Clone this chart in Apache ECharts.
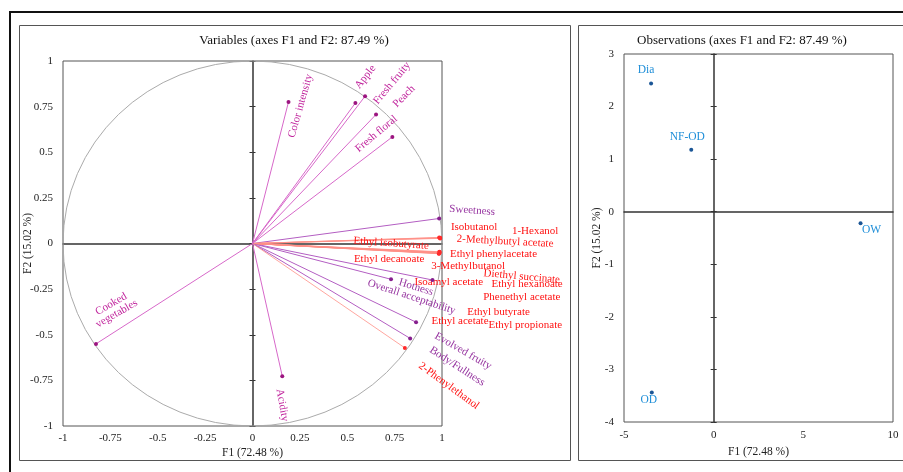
<!DOCTYPE html>
<html>
<head>
<meta charset="utf-8">
<script src="https://cdn.jsdelivr.net/npm/echarts@6/dist/echarts.min.js"></script>
<style>
  html, body { margin: 0; padding: 0; background: #fff; }
  #chart { width: 903px; height: 472px; }
</style>
</head>
<body>
<div id="chart"></div>
<script>
// variables (correlation circle)
const varNames = [
  'Color intensity', 'Apple', 'Fresh fruity', 'Peach', 'Fresh floral', 'Sweetness',
  'Isobutanol', '1-Hexanol', '2-Methylbutyl acetate', 'Ethyl isobutyrate',
  'Ethyl phenylacetate', 'Ethyl decanoate', '3-Methylbutanol', 'Diethyl succinate',
  'Isoamyl acetate', 'Ethyl hexanoate', 'Phenethyl acetate', 'Hotness',
  'Overall acceptability', 'Ethyl butyrate', 'Ethyl acetate', 'Ethyl propionate',
  'Evolved fruity', 'Body/Fullness', '2-Phenylethanol', 'Acidity', 'Cooked\nvegetables'
]
const varF1 = [0.19, 0.543, 0.594, 0.652, 0.738, 0.985,
  0.99, 0.99, 0.99, 0.985,
  0.987, 0.985, 0.985, 0.983,
  0.983, 0.985, 0.983, 0.731,
  0.95, 0.987, 0.984, 0.986,
  0.863, 0.832, 0.804, 0.157, -0.826]
const varF2 = [0.776, 0.77, 0.807, 0.707, 0.584, 0.137,
  0.032, 0.03, 0.028, 0.033,
  -0.05, -0.055, -0.053, -0.05,
  -0.056, -0.048, -0.052, -0.196,
  -0.2, -0.045, -0.054, -0.047,
  -0.431, -0.52, -0.572, -0.727, -0.55]
// a = sensory (magenta), b = sensory (violet), v = volatile (red)
const varGroup = ['a', 'a', 'a', 'a', 'a', 'b',
  'v', 'v', 'v', 'v',
  'v', 'v', 'v', 'v',
  'v', 'v', 'v', 'b',
  'b', 'v', 'v', 'v',
  'b', 'b', 'v', 'a', 'a']

// observations
const obsNames = ['Dia', 'NF-OD', 'OW', 'OD']
const obsF1 = [-3.49, -1.25, 8.19, -3.45]
const obsF2 = [2.44, 1.18, -0.22, -3.44]

// label placement: [dx, dy, rotate] in px from the point (centre of text)
const varLabelPos = [
  [12, 4, 74], [10, -26, 52], [27, -13, 50], [28, -18, 45], [-16, -3, 40], [33, -8, -4],
  [34, -11, 0], [95, -7, 0], [65, 3, -3], [-48, 6, -4],
  [54, 1, 0], [-50, 6, 0], [29, 13, 0], [83, 24, -5],
  [10, 28, 0], [88, 32, 0], [83, 44, 0], [25, 8, -17],
  [-21, 17, -18], [59, 60, 0], [21, 68, 0], [86, 73, 0],
  [47, 29, -30], [47, 28, -33], [44, 38, -36], [0, 29, -80], [18, -35, 30]
]
const obsLabelPos = [[-5, -13], [-4, -13], [11, 7], [-3, 7]]

const groupColors = {
  a: { line: '#d768c9', dot: '#9c1580', label: '#c0239c', width: 1 },
  b: { line: '#b35ec2', dot: '#86208e', label: '#95329f', width: 1 },
  v: { line: '#ff8f86', dot: '#ff2a2a', label: '#ff1212', width: 0.8 }
}

const FONT = '"Liberation Serif", "Times New Roman", serif'

const chart = echarts.init(document.getElementById('chart'))

const axisLabelStyle = { color: '#222', fontSize: 11, fontFamily: FONT }
const nameStyle = { color: '#222', fontSize: 11.5, fontFamily: FONT }

function frameAxis(extra) {
  return Object.assign({
    type: 'value',
    axisLine: { show: false },
    axisTick: { show: false },
    splitLine: { show: false }
  }, extra)
}

function vectorItem(params, api) {
  const i = api.value(2)
  const o = api.coord([0, 0])
  const p = api.coord([api.value(0), api.value(1)])
  const c = groupColors[varGroup[i]]
  const lp = varLabelPos[i]
  return {
    type: 'group',
    children: [
      { type: 'line', shape: { x1: o[0], y1: o[1], x2: p[0], y2: p[1] }, style: { stroke: c.line, lineWidth: c.width } },
      { type: 'circle', shape: { cx: p[0], cy: p[1], r: 2 }, style: { fill: c.dot } },
      {
        type: 'text', x: p[0] + lp[0], y: p[1] + lp[1], rotation: lp[2] * Math.PI / 180,
        style: { text: varNames[i], fill: c.label, font: '11px ' + FONT, align: 'center', verticalAlign: 'middle' }
      }
    ]
  }
}

function obsItem(params, api) {
  const i = api.value(2)
  const p = api.coord([api.value(0), api.value(1)])
  const lp = obsLabelPos[i]
  return {
    type: 'group',
    children: [
      { type: 'circle', shape: { cx: p[0], cy: p[1], r: 2 }, style: { fill: '#1b5696' } },
      {
        type: 'text', x: p[0] + lp[0], y: p[1] + lp[1],
        style: { text: obsNames[i], fill: '#1e8ed8', font: '11.5px ' + FONT, align: 'center', verticalAlign: 'middle' }
      }
    ]
  }
}

function unitCircle(params, api) {
  const o = api.coord([0, 0])
  const p = api.coord([1, 1])
  const rx = p[0] - o[0]
  const ry = o[1] - p[1]
  return {
    type: 'circle', x: o[0], y: o[1], scaleY: ry / rx,
    shape: { cx: 0, cy: 0, r: rx },
    style: { fill: 'none', stroke: '#a8a8a8', lineWidth: 1, strokeNoScale: true }
  }
}

chart.setOption({
  animation: false,
  title: [
    { text: 'Variables (axes F1 and F2: 87.49 %)', left: 294, top: 34, textAlign: 'center', padding: 0,
      textStyle: { fontSize: 13, fontWeight: 'normal', color: '#111', fontFamily: FONT } },
    { text: 'Observations (axes F1 and F2: 87.49 %)', left: 742, top: 34, textAlign: 'center', padding: 0,
      textStyle: { fontSize: 13, fontWeight: 'normal', color: '#111', fontFamily: FONT } }
  ],
  graphic: [
    { type: 'polyline', shape: { points: [[10, 472], [10, 12], [903, 12]] }, style: { fill: 'none', stroke: '#111', lineWidth: 2 } },
    { type: 'rect', shape: { x: 19.5, y: 25.5, width: 551, height: 435 }, style: { fill: 'none', stroke: '#555', lineWidth: 1 } },
    { type: 'rect', shape: { x: 578.5, y: 25.5, width: 340, height: 435 }, style: { fill: 'none', stroke: '#555', lineWidth: 1 } }
  ],
  grid: [
    { left: 63, top: 61, width: 379, height: 365, show: true, borderColor: '#555', borderWidth: 1 },
    { left: 624, top: 54, width: 269, height: 368, show: true, borderColor: '#555', borderWidth: 1 }
  ],
  xAxis: [
    frameAxis({ gridIndex: 0, min: -1, max: 1, interval: 0.25, position: 'bottom',
      axisLabel: Object.assign({ margin: 7 }, axisLabelStyle),
      name: 'F1 (72.48 %)', nameLocation: 'middle', nameGap: 21, nameMoveOverlap: false, nameTextStyle: nameStyle }),
    frameAxis({ gridIndex: 0, min: -1, max: 1, interval: 0.25, position: 'bottom',
      axisLine: { show: true, onZero: true, onZeroAxisIndex: 0, lineStyle: { color: '#333', width: 1.5 } },
      axisLabel: { show: false } }),
    frameAxis({ gridIndex: 1, min: -5, max: 10, interval: 5, position: 'bottom',
      axisLabel: Object.assign({ margin: 8 }, axisLabelStyle),
      name: 'F1 (72.48 %)', nameLocation: 'middle', nameGap: 24, nameMoveOverlap: false, nameTextStyle: nameStyle }),
    frameAxis({ gridIndex: 1, min: -5, max: 10, interval: 5, position: 'bottom',
      axisLine: { show: true, onZero: true, onZeroAxisIndex: 3, lineStyle: { color: '#333', width: 1.5 } },
      axisLabel: { show: false } })
  ],
  yAxis: [
    frameAxis({ gridIndex: 0, min: -1, max: 1, interval: 0.25, position: 'left',
      axisLabel: Object.assign({ margin: 10 }, axisLabelStyle),
      name: 'F2 (15.02 %)', nameLocation: 'middle', nameGap: 29, nameMoveOverlap: false, nameTextStyle: nameStyle }),
    frameAxis({ gridIndex: 0, min: -1, max: 1, interval: 0.25, position: 'left',
      axisLine: { show: true, onZero: true, onZeroAxisIndex: 0, lineStyle: { color: '#333', width: 1.5 } },
      axisTick: { show: true, length: 3, lineStyle: { color: '#333' } },
      axisLabel: { show: false } }),
    frameAxis({ gridIndex: 0, min: -1, max: 1, interval: 0.25, position: 'right',
      axisLine: { show: false, onZero: true, onZeroAxisIndex: 0 },
      axisTick: { show: true, length: 3, lineStyle: { color: '#333' } },
      axisLabel: { show: false } }),
    frameAxis({ gridIndex: 1, min: -4, max: 3, interval: 1, position: 'left',
      axisLabel: Object.assign({ margin: 10 }, axisLabelStyle),
      name: 'F2 (15.02 %)', nameLocation: 'middle', nameGap: 21, nameMoveOverlap: false, nameTextStyle: nameStyle }),
    frameAxis({ gridIndex: 1, min: -4, max: 3, interval: 1, position: 'left',
      axisLine: { show: true, onZero: true, onZeroAxisIndex: 2, lineStyle: { color: '#333', width: 1.5 } },
      axisTick: { show: true, length: 3, lineStyle: { color: '#333' } },
      axisLabel: { show: false } }),
    frameAxis({ gridIndex: 1, min: -4, max: 3, interval: 1, position: 'right',
      axisLine: { show: false, onZero: true, onZeroAxisIndex: 2 },
      axisTick: { show: true, length: 3, lineStyle: { color: '#333' } },
      axisLabel: { show: false } })
  ],
  series: [
    { type: 'custom', xAxisIndex: 0, yAxisIndex: 0, renderItem: unitCircle, data: [[0, 0]], silent: true, z: 1 },
    {
      type: 'custom', xAxisIndex: 0, yAxisIndex: 0, renderItem: vectorItem, z: 3,
      encode: { x: 0, y: 1 },
      data: varF1.map((v, i) => [v, varF2[i], i])
    },
    {
      type: 'custom', xAxisIndex: 2, yAxisIndex: 3, renderItem: obsItem, z: 3,
      encode: { x: 0, y: 1 },
      data: obsF1.map((v, i) => [v, obsF2[i], i])
    }
  ]
})
</script>
</body>
</html>
